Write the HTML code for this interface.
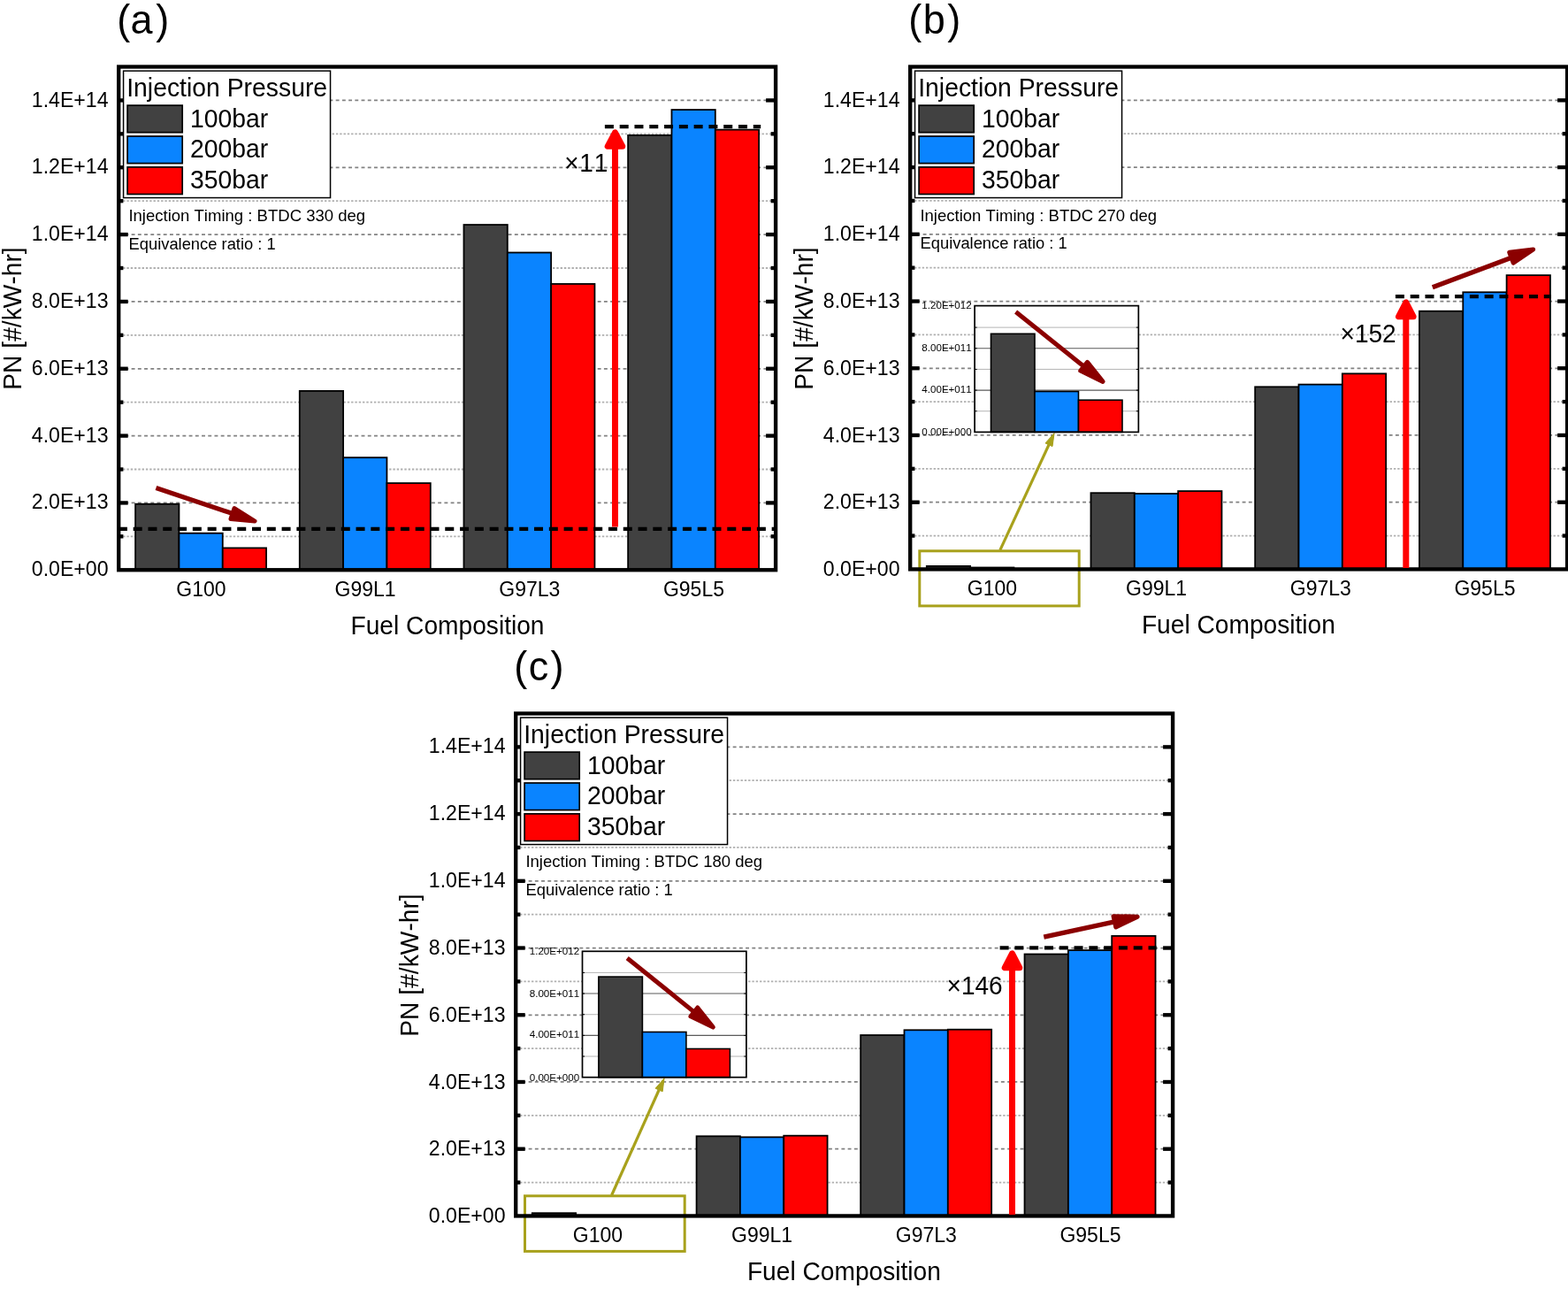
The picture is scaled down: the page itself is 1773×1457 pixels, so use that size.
<!DOCTYPE html>
<html lang="en">
<head>
<meta charset="utf-8">
<title>PN emissions by fuel composition and injection pressure</title>
<style>
html,body{margin:0;padding:0;background:#fff;}
body{width:1773px;height:1457px;overflow:hidden;}
svg{display:block;}
</style>
</head>
<body>
<svg width="1773" height="1457" viewBox="0 0 1773 1457" font-family="'Liberation Sans', sans-serif" fill="#000" style="font-kerning:none">
<rect width="1773" height="1457" fill="#fff"/>
<g transform="translate(0 0)">
<g><line x1="134.2" y1="606.33" x2="877.1" y2="606.33" stroke="#b0b0b0" stroke-width="1.8" stroke-dasharray="2.4 1.9" stroke-dashoffset="-0.6"/><line x1="134.2" y1="568.42" x2="877.1" y2="568.42" stroke="#828282" stroke-width="1.75" stroke-dasharray="3.9 3.32"/><line x1="134.2" y1="530.5" x2="877.1" y2="530.5" stroke="#b0b0b0" stroke-width="1.8" stroke-dasharray="2.4 1.9" stroke-dashoffset="-0.6"/><line x1="134.2" y1="492.58" x2="877.1" y2="492.58" stroke="#828282" stroke-width="1.75" stroke-dasharray="3.9 3.32"/><line x1="134.2" y1="454.67" x2="877.1" y2="454.67" stroke="#b0b0b0" stroke-width="1.8" stroke-dasharray="2.4 1.9" stroke-dashoffset="-0.6"/><line x1="134.2" y1="416.75" x2="877.1" y2="416.75" stroke="#828282" stroke-width="1.75" stroke-dasharray="3.9 3.32"/><line x1="134.2" y1="378.83" x2="877.1" y2="378.83" stroke="#b0b0b0" stroke-width="1.8" stroke-dasharray="2.4 1.9" stroke-dashoffset="-0.6"/><line x1="134.2" y1="340.92" x2="877.1" y2="340.92" stroke="#828282" stroke-width="1.75" stroke-dasharray="3.9 3.32"/><line x1="134.2" y1="303" x2="877.1" y2="303" stroke="#b0b0b0" stroke-width="1.8" stroke-dasharray="2.4 1.9" stroke-dashoffset="-0.6"/><line x1="134.2" y1="265.08" x2="877.1" y2="265.08" stroke="#828282" stroke-width="1.75" stroke-dasharray="3.9 3.32"/><line x1="134.2" y1="227.17" x2="877.1" y2="227.17" stroke="#b0b0b0" stroke-width="1.8" stroke-dasharray="2.4 1.9" stroke-dashoffset="-0.6"/><line x1="134.2" y1="189.25" x2="877.1" y2="189.25" stroke="#828282" stroke-width="1.75" stroke-dasharray="3.9 3.32"/><line x1="134.2" y1="151.33" x2="877.1" y2="151.33" stroke="#b0b0b0" stroke-width="1.8" stroke-dasharray="2.4 1.9" stroke-dashoffset="-0.6"/><line x1="134.2" y1="113.42" x2="877.1" y2="113.42" stroke="#828282" stroke-width="1.75" stroke-dasharray="3.9 3.32"/></g>
<g><rect x="153.1" y="569.7" width="49.33" height="74.55" fill="#414141" stroke="#000" stroke-width="1.8"/><rect x="202.44" y="602.7" width="49.33" height="41.55" fill="#0a84ff" stroke="#000" stroke-width="1.8"/><rect x="251.76" y="619.4" width="49.33" height="24.85" fill="#ff0000" stroke="#000" stroke-width="1.8"/><rect x="338.78" y="441.9" width="49.33" height="202.35" fill="#414141" stroke="#000" stroke-width="1.8"/><rect x="388.11" y="517.2" width="49.33" height="127.05" fill="#0a84ff" stroke="#000" stroke-width="1.8"/><rect x="437.44" y="546.1" width="49.33" height="98.15" fill="#ff0000" stroke="#000" stroke-width="1.8"/><rect x="524.47" y="254.05" width="49.33" height="390.2" fill="#414141" stroke="#000" stroke-width="1.8"/><rect x="573.8" y="285.5" width="49.33" height="358.75" fill="#0a84ff" stroke="#000" stroke-width="1.8"/><rect x="623.12" y="320.95" width="49.33" height="323.3" fill="#ff0000" stroke="#000" stroke-width="1.8"/><rect x="710.14" y="152.9" width="49.33" height="491.35" fill="#414141" stroke="#000" stroke-width="1.8"/><rect x="759.48" y="124.05" width="49.33" height="520.2" fill="#0a84ff" stroke="#000" stroke-width="1.8"/><rect x="808.8" y="146.6" width="49.33" height="497.65" fill="#ff0000" stroke="#000" stroke-width="1.8"/></g>

<g stroke="#000" stroke-width="4.35"><line x1="134.2" y1="606.33" x2="139.4" y2="606.33"/><line x1="877.1" y1="606.33" x2="871.6" y2="606.33"/><line x1="134.2" y1="568.42" x2="144.7" y2="568.42"/><line x1="877.1" y1="568.42" x2="866.1" y2="568.42"/><line x1="134.2" y1="530.5" x2="139.4" y2="530.5"/><line x1="877.1" y1="530.5" x2="871.6" y2="530.5"/><line x1="134.2" y1="492.58" x2="144.7" y2="492.58"/><line x1="877.1" y1="492.58" x2="866.1" y2="492.58"/><line x1="134.2" y1="454.67" x2="139.4" y2="454.67"/><line x1="877.1" y1="454.67" x2="871.6" y2="454.67"/><line x1="134.2" y1="416.75" x2="144.7" y2="416.75"/><line x1="877.1" y1="416.75" x2="866.1" y2="416.75"/><line x1="134.2" y1="378.83" x2="139.4" y2="378.83"/><line x1="877.1" y1="378.83" x2="871.6" y2="378.83"/><line x1="134.2" y1="340.92" x2="144.7" y2="340.92"/><line x1="877.1" y1="340.92" x2="866.1" y2="340.92"/><line x1="134.2" y1="303" x2="139.4" y2="303"/><line x1="877.1" y1="303" x2="871.6" y2="303"/><line x1="134.2" y1="265.08" x2="144.7" y2="265.08"/><line x1="877.1" y1="265.08" x2="866.1" y2="265.08"/><line x1="134.2" y1="227.17" x2="139.4" y2="227.17"/><line x1="877.1" y1="227.17" x2="871.6" y2="227.17"/><line x1="134.2" y1="189.25" x2="144.7" y2="189.25"/><line x1="877.1" y1="189.25" x2="866.1" y2="189.25"/><line x1="134.2" y1="151.33" x2="139.4" y2="151.33"/><line x1="877.1" y1="151.33" x2="871.6" y2="151.33"/><line x1="134.2" y1="113.42" x2="144.7" y2="113.42"/><line x1="877.1" y1="113.42" x2="866.1" y2="113.42"/></g>
<rect x="134.2" y="75.5" width="742.9" height="568.75" fill="none" stroke="#000" stroke-width="4.35"/>
<g><text transform="translate(122.55 650.83) scale(1.0050 1.0400)" font-size="23" text-anchor="end">0.0E+00</text><text transform="translate(122.55 574.77) scale(1.0050 1.0400)" font-size="23" text-anchor="end">2.0E+13</text><text transform="translate(122.55 499.75) scale(1.0050 1.0400)" font-size="23" text-anchor="end">4.0E+13</text><text transform="translate(122.55 424.14) scale(1.0050 1.0400)" font-size="23" text-anchor="end">6.0E+13</text><text transform="translate(122.55 348.02) scale(1.0050 1.0400)" font-size="23" text-anchor="end">8.0E+13</text><text transform="translate(122.55 272.11) scale(1.0050 1.0400)" font-size="23" text-anchor="end">1.0E+14</text><text transform="translate(122.55 195.55) scale(1.0050 1.0400)" font-size="23" text-anchor="end">1.2E+14</text><text transform="translate(122.55 120.78) scale(1.0050 1.0400)" font-size="23" text-anchor="end">1.4E+14</text></g>
<g><text transform="translate(227.4 674.2) scale(1.0000 1.0400)" font-size="23" text-anchor="middle">G100</text><text transform="translate(413.08 674.2) scale(1.0000 1.0400)" font-size="23" text-anchor="middle">G99L1</text><text transform="translate(598.76 674.2) scale(1.0000 1.0400)" font-size="23" text-anchor="middle">G97L3</text><text transform="translate(784.44 674.2) scale(1.0000 1.0400)" font-size="23" text-anchor="middle">G95L5</text></g>
<text transform="translate(506 716.6) scale(0.9880 1.0050)" font-size="28.5" text-anchor="middle">Fuel Composition</text>
<text transform="translate(23.6 360) rotate(-90) scale(0.99 1.04)" font-size="28.5" text-anchor="middle">PN [#/kW-hr]</text>
<text transform="translate(0 38.15) scale(1 1.0220)" font-size="45" x="132.37 147.52 176.2" y="0">(a)</text>
<g><rect x="139.55" y="80.15" width="234" height="143.4" fill="#fff" stroke="#000" stroke-width="1.5"/><text transform="translate(143.2 109) scale(0.9950 1.0400)" font-size="28.5" text-anchor="start">Injection Pressure</text><rect x="144.1" y="119.1" width="62.1" height="30.6" fill="#414141" stroke="#000" stroke-width="1.7"/><text transform="translate(215 143.5) scale(0.9950 1.0400)" font-size="28.5" text-anchor="start">100bar</text><rect x="144.1" y="154" width="62.1" height="30.6" fill="#0a84ff" stroke="#000" stroke-width="1.7"/><text transform="translate(215 178.45) scale(0.9950 1.0400)" font-size="28.5" text-anchor="start">200bar</text><rect x="144.1" y="188.9" width="62.1" height="30.6" fill="#ff0000" stroke="#000" stroke-width="1.7"/><text transform="translate(215 213.4) scale(0.9950 1.0400)" font-size="28.5" text-anchor="start">350bar</text></g>
<text transform="translate(145.4 250) scale(1.0300 1.0700)" font-size="18" text-anchor="start">Injection Timing : BTDC 330 deg</text>
<text transform="translate(145.5 281.8) scale(1.0200 1.0700)" font-size="18" text-anchor="start">Equivalence ratio : 1</text>
<line x1="133.9" y1="597.9" x2="877.1" y2="597.9" stroke="#000" stroke-width="4.3" stroke-dasharray="10 6.79"/><line x1="683.9" y1="143.05" x2="860.2" y2="143.05" stroke="#000" stroke-width="4.3" stroke-dasharray="10 6.79"/><line x1="695.5" y1="595.5" x2="695.5" y2="159.7" stroke="#ff0000" stroke-width="7"/><polygon points="695.5,149.9 687.2,165.3 703.8,165.3" fill="#ff0000" stroke="#ff0000" stroke-width="7" stroke-linejoin="round"/><text transform="translate(0 193.9) scale(1 1.0400)" font-size="28" x="638.2 655.25 671.75" y="0">×11</text><line x1="176.45" y1="551.4" x2="262.98" y2="580.57" stroke="#8b0000" stroke-width="5.3"/><polygon points="288,589 260.97,586.54 265,574.6" fill="#8b0000" stroke="#8b0000" stroke-width="5" stroke-linejoin="round"/>
</g>
<g transform="translate(895 0)">
<g><line x1="134.2" y1="605.57" x2="877.1" y2="605.57" stroke="#b0b0b0" stroke-width="1.8" stroke-dasharray="2.4 1.9" stroke-dashoffset="-0.6"/><line x1="134.2" y1="567.71" x2="877.1" y2="567.71" stroke="#828282" stroke-width="1.75" stroke-dasharray="3.9 3.32"/><line x1="134.2" y1="529.84" x2="877.1" y2="529.84" stroke="#b0b0b0" stroke-width="1.8" stroke-dasharray="2.4 1.9" stroke-dashoffset="-0.6"/><line x1="134.2" y1="491.98" x2="877.1" y2="491.98" stroke="#828282" stroke-width="1.75" stroke-dasharray="3.9 3.32"/><line x1="134.2" y1="454.12" x2="877.1" y2="454.12" stroke="#b0b0b0" stroke-width="1.8" stroke-dasharray="2.4 1.9" stroke-dashoffset="-0.6"/><line x1="134.2" y1="416.26" x2="877.1" y2="416.26" stroke="#828282" stroke-width="1.75" stroke-dasharray="3.9 3.32"/><line x1="134.2" y1="378.4" x2="877.1" y2="378.4" stroke="#b0b0b0" stroke-width="1.8" stroke-dasharray="2.4 1.9" stroke-dashoffset="-0.6"/><line x1="134.2" y1="340.53" x2="877.1" y2="340.53" stroke="#828282" stroke-width="1.75" stroke-dasharray="3.9 3.32"/><line x1="134.2" y1="302.67" x2="877.1" y2="302.67" stroke="#b0b0b0" stroke-width="1.8" stroke-dasharray="2.4 1.9" stroke-dashoffset="-0.6"/><line x1="134.2" y1="264.81" x2="877.1" y2="264.81" stroke="#828282" stroke-width="1.75" stroke-dasharray="3.9 3.32"/><line x1="134.2" y1="226.95" x2="877.1" y2="226.95" stroke="#b0b0b0" stroke-width="1.8" stroke-dasharray="2.4 1.9" stroke-dashoffset="-0.6"/><line x1="134.2" y1="189.09" x2="877.1" y2="189.09" stroke="#828282" stroke-width="1.75" stroke-dasharray="3.9 3.32"/><line x1="134.2" y1="151.22" x2="877.1" y2="151.22" stroke="#b0b0b0" stroke-width="1.8" stroke-dasharray="2.4 1.9" stroke-dashoffset="-0.6"/><line x1="134.2" y1="113.36" x2="877.1" y2="113.36" stroke="#828282" stroke-width="1.75" stroke-dasharray="3.9 3.32"/></g>
<g><rect x="152.8" y="639.9" width="49.33" height="3.53" fill="#414141" stroke="#000" stroke-width="1.8"/><rect x="202.13" y="641.5" width="49.33" height="1.93" fill="#0a84ff" stroke="#000" stroke-width="1.8"/><rect x="251.46" y="643.2" width="49.33" height="0.23" fill="#ff0000" stroke="#000" stroke-width="1.8"/><rect x="338.48" y="557.2" width="49.33" height="86.23" fill="#414141" stroke="#000" stroke-width="1.8"/><rect x="387.81" y="558" width="49.33" height="85.43" fill="#0a84ff" stroke="#000" stroke-width="1.8"/><rect x="437.14" y="555.1" width="49.33" height="88.33" fill="#ff0000" stroke="#000" stroke-width="1.8"/><rect x="524.17" y="437.3" width="49.33" height="206.13" fill="#414141" stroke="#000" stroke-width="1.8"/><rect x="573.5" y="434.6" width="49.33" height="208.83" fill="#0a84ff" stroke="#000" stroke-width="1.8"/><rect x="622.83" y="422.35" width="49.33" height="221.08" fill="#ff0000" stroke="#000" stroke-width="1.8"/><rect x="709.94" y="351.7" width="49.33" height="291.73" fill="#414141" stroke="#000" stroke-width="1.8"/><rect x="759.27" y="330.3" width="49.33" height="313.13" fill="#0a84ff" stroke="#000" stroke-width="1.8"/><rect x="808.6" y="311.1" width="49.33" height="332.33" fill="#ff0000" stroke="#000" stroke-width="1.8"/></g>
<rect x="144.8" y="622.8" width="180.4" height="62.1" fill="none" stroke="#a8a11c" stroke-width="3"/>
<g stroke="#000" stroke-width="4.35"><line x1="134.2" y1="605.57" x2="139.4" y2="605.57"/><line x1="877.1" y1="605.57" x2="871.6" y2="605.57"/><line x1="134.2" y1="567.71" x2="144.7" y2="567.71"/><line x1="877.1" y1="567.71" x2="866.1" y2="567.71"/><line x1="134.2" y1="529.84" x2="139.4" y2="529.84"/><line x1="877.1" y1="529.84" x2="871.6" y2="529.84"/><line x1="134.2" y1="491.98" x2="144.7" y2="491.98"/><line x1="877.1" y1="491.98" x2="866.1" y2="491.98"/><line x1="134.2" y1="454.12" x2="139.4" y2="454.12"/><line x1="877.1" y1="454.12" x2="871.6" y2="454.12"/><line x1="134.2" y1="416.26" x2="144.7" y2="416.26"/><line x1="877.1" y1="416.26" x2="866.1" y2="416.26"/><line x1="134.2" y1="378.4" x2="139.4" y2="378.4"/><line x1="877.1" y1="378.4" x2="871.6" y2="378.4"/><line x1="134.2" y1="340.53" x2="144.7" y2="340.53"/><line x1="877.1" y1="340.53" x2="866.1" y2="340.53"/><line x1="134.2" y1="302.67" x2="139.4" y2="302.67"/><line x1="877.1" y1="302.67" x2="871.6" y2="302.67"/><line x1="134.2" y1="264.81" x2="144.7" y2="264.81"/><line x1="877.1" y1="264.81" x2="866.1" y2="264.81"/><line x1="134.2" y1="226.95" x2="139.4" y2="226.95"/><line x1="877.1" y1="226.95" x2="871.6" y2="226.95"/><line x1="134.2" y1="189.09" x2="144.7" y2="189.09"/><line x1="877.1" y1="189.09" x2="866.1" y2="189.09"/><line x1="134.2" y1="151.22" x2="139.4" y2="151.22"/><line x1="877.1" y1="151.22" x2="871.6" y2="151.22"/><line x1="134.2" y1="113.36" x2="144.7" y2="113.36"/><line x1="877.1" y1="113.36" x2="866.1" y2="113.36"/></g>
<rect x="134.2" y="75.5" width="742.9" height="567.93" fill="none" stroke="#000" stroke-width="4.35"/>
<g><text transform="translate(122.55 651.08) scale(1.0050 1.0400)" font-size="23" text-anchor="end">0.0E+00</text><text transform="translate(122.55 575.02) scale(1.0050 1.0400)" font-size="23" text-anchor="end">2.0E+13</text><text transform="translate(122.55 500) scale(1.0050 1.0400)" font-size="23" text-anchor="end">4.0E+13</text><text transform="translate(122.55 424.39) scale(1.0050 1.0400)" font-size="23" text-anchor="end">6.0E+13</text><text transform="translate(122.55 348.27) scale(1.0050 1.0400)" font-size="23" text-anchor="end">8.0E+13</text><text transform="translate(122.55 272.36) scale(1.0050 1.0400)" font-size="23" text-anchor="end">1.0E+14</text><text transform="translate(122.55 195.8) scale(1.0050 1.0400)" font-size="23" text-anchor="end">1.2E+14</text><text transform="translate(122.55 121.03) scale(1.0050 1.0400)" font-size="23" text-anchor="end">1.4E+14</text></g>
<g><text transform="translate(226.9 673.2) scale(1.0000 1.0400)" font-size="23" text-anchor="middle">G100</text><text transform="translate(412.58 673.2) scale(1.0000 1.0400)" font-size="23" text-anchor="middle">G99L1</text><text transform="translate(598.26 673.2) scale(1.0000 1.0400)" font-size="23" text-anchor="middle">G97L3</text><text transform="translate(783.94 673.2) scale(1.0000 1.0400)" font-size="23" text-anchor="middle">G95L5</text></g>
<text transform="translate(505.4 716.3) scale(0.9880 1.0050)" font-size="28.5" text-anchor="middle">Fuel Composition</text>
<text transform="translate(23.6 360) rotate(-90) scale(0.99 1.04)" font-size="28.5" text-anchor="middle">PN [#/kW-hr]</text>
<text transform="translate(0 38.15) scale(1 1.0220)" font-size="45" x="132.37 148.76 176.2" y="0">(b)</text>
<g><rect x="139.55" y="80.15" width="234" height="143.4" fill="#fff" stroke="#000" stroke-width="1.5"/><text transform="translate(143.2 109) scale(0.9950 1.0400)" font-size="28.5" text-anchor="start">Injection Pressure</text><rect x="144.1" y="119.1" width="62.1" height="30.6" fill="#414141" stroke="#000" stroke-width="1.7"/><text transform="translate(215 143.5) scale(0.9950 1.0400)" font-size="28.5" text-anchor="start">100bar</text><rect x="144.1" y="154" width="62.1" height="30.6" fill="#0a84ff" stroke="#000" stroke-width="1.7"/><text transform="translate(215 178.45) scale(0.9950 1.0400)" font-size="28.5" text-anchor="start">200bar</text><rect x="144.1" y="188.9" width="62.1" height="30.6" fill="#ff0000" stroke="#000" stroke-width="1.7"/><text transform="translate(215 213.4) scale(0.9950 1.0400)" font-size="28.5" text-anchor="start">350bar</text></g>
<text transform="translate(145.4 249.5) scale(1.0300 1.0700)" font-size="18" text-anchor="start">Injection Timing : BTDC 270 deg</text>
<text transform="translate(145.5 281.3) scale(1.0200 1.0700)" font-size="18" text-anchor="start">Equivalence ratio : 1</text>
<line x1="682.9" y1="335.2" x2="859" y2="335.2" stroke="#000" stroke-width="4.3" stroke-dasharray="10 6.79"/><line x1="694.8" y1="642" x2="694.8" y2="351.7" stroke="#ff0000" stroke-width="7"/><polygon points="694.8,341.9 686.5,357.8 703.1,357.8" fill="#ff0000" stroke="#ff0000" stroke-width="7" stroke-linejoin="round"/><text transform="translate(620.6 387.2) scale(1.0000 1.0400)" font-size="28" text-anchor="start">×152</text><line x1="724.8" y1="324.7" x2="813.98" y2="291.23" stroke="#8b0000" stroke-width="5.3"/><polygon points="838.7,281.95 816.2,297.13 811.77,285.33" fill="#8b0000" stroke="#8b0000" stroke-width="5" stroke-linejoin="round"/><line x1="235.8" y1="621.8" x2="291" y2="502.75" stroke="#a8a11c" stroke-width="3.2"/><polygon points="297.1,489.6 294.99,504.61 287.01,500.9" fill="#a8a11c" stroke="#a8a11c" stroke-width="1" stroke-linejoin="round"/><g>
<rect x="207.1" y="345.6" width="185.25" height="142.8" fill="#fff"/>
<line x1="207.1" y1="464.74" x2="392.35" y2="464.74" stroke="#b4b4b4" stroke-width="1"/>
<line x1="207.1" y1="464.74" x2="209.7" y2="464.74" stroke="#000" stroke-width="1"/>
<line x1="392.35" y1="464.74" x2="389.75" y2="464.74" stroke="#000" stroke-width="1"/>
<line x1="207.1" y1="441.08" x2="392.35" y2="441.08" stroke="#5a5a5a" stroke-width="1.1"/>
<line x1="207.1" y1="441.08" x2="209.7" y2="441.08" stroke="#000" stroke-width="1"/>
<line x1="392.35" y1="441.08" x2="389.75" y2="441.08" stroke="#000" stroke-width="1"/>
<line x1="207.1" y1="417.42" x2="392.35" y2="417.42" stroke="#b4b4b4" stroke-width="1"/>
<line x1="207.1" y1="417.42" x2="209.7" y2="417.42" stroke="#000" stroke-width="1"/>
<line x1="392.35" y1="417.42" x2="389.75" y2="417.42" stroke="#000" stroke-width="1"/>
<line x1="207.1" y1="393.76" x2="392.35" y2="393.76" stroke="#5a5a5a" stroke-width="1.1"/>
<line x1="207.1" y1="393.76" x2="209.7" y2="393.76" stroke="#000" stroke-width="1"/>
<line x1="392.35" y1="393.76" x2="389.75" y2="393.76" stroke="#000" stroke-width="1"/>
<line x1="207.1" y1="370.1" x2="392.35" y2="370.1" stroke="#b4b4b4" stroke-width="1"/>
<line x1="207.1" y1="370.1" x2="209.7" y2="370.1" stroke="#000" stroke-width="1"/>
<line x1="392.35" y1="370.1" x2="389.75" y2="370.1" stroke="#000" stroke-width="1"/>
<rect x="225.5" y="377.3" width="49.5" height="111.1" fill="#414141" stroke="#000" stroke-width="1.6"/>
<rect x="275" y="442.5" width="49.5" height="45.9" fill="#0a84ff" stroke="#000" stroke-width="1.6"/>
<rect x="324.5" y="452.2" width="49.5" height="36.2" fill="#ff0000" stroke="#000" stroke-width="1.6"/>
<rect x="207.1" y="345.6" width="185.25" height="142.8" fill="none" stroke="#000" stroke-width="1.7"/>
<text transform="translate(203.7 492.4) scale(1.0350 1.0400)" font-size="11.2" text-anchor="end">0.00E+000</text>
<text transform="translate(203.7 443.9) scale(1.0350 1.0400)" font-size="11.2" text-anchor="end">4.00E+011</text>
<text transform="translate(203.7 397) scale(1.0350 1.0400)" font-size="11.2" text-anchor="end">8.00E+011</text>
<text transform="translate(203.7 349.4) scale(1.0350 1.0400)" font-size="11.2" text-anchor="end">1.20E+012</text>
<line x1="253.6" y1="352.5" x2="330.64" y2="414.21" stroke="#8b0000" stroke-width="5"/><polygon points="352.1,431.4 326.73,419.09 334.54,409.33" fill="#8b0000" stroke="#8b0000" stroke-width="5" stroke-linejoin="round"/>
</g>
</g>
<g transform="translate(449 731)">
<g><line x1="134.2" y1="605.57" x2="877.1" y2="605.57" stroke="#b0b0b0" stroke-width="1.8" stroke-dasharray="2.4 1.9" stroke-dashoffset="-0.6"/><line x1="134.2" y1="567.71" x2="877.1" y2="567.71" stroke="#828282" stroke-width="1.75" stroke-dasharray="3.9 3.32"/><line x1="134.2" y1="529.84" x2="877.1" y2="529.84" stroke="#b0b0b0" stroke-width="1.8" stroke-dasharray="2.4 1.9" stroke-dashoffset="-0.6"/><line x1="134.2" y1="491.98" x2="877.1" y2="491.98" stroke="#828282" stroke-width="1.75" stroke-dasharray="3.9 3.32"/><line x1="134.2" y1="454.12" x2="877.1" y2="454.12" stroke="#b0b0b0" stroke-width="1.8" stroke-dasharray="2.4 1.9" stroke-dashoffset="-0.6"/><line x1="134.2" y1="416.26" x2="877.1" y2="416.26" stroke="#828282" stroke-width="1.75" stroke-dasharray="3.9 3.32"/><line x1="134.2" y1="378.4" x2="877.1" y2="378.4" stroke="#b0b0b0" stroke-width="1.8" stroke-dasharray="2.4 1.9" stroke-dashoffset="-0.6"/><line x1="134.2" y1="340.53" x2="877.1" y2="340.53" stroke="#828282" stroke-width="1.75" stroke-dasharray="3.9 3.32"/><line x1="134.2" y1="302.67" x2="877.1" y2="302.67" stroke="#b0b0b0" stroke-width="1.8" stroke-dasharray="2.4 1.9" stroke-dashoffset="-0.6"/><line x1="134.2" y1="264.81" x2="877.1" y2="264.81" stroke="#828282" stroke-width="1.75" stroke-dasharray="3.9 3.32"/><line x1="134.2" y1="226.95" x2="877.1" y2="226.95" stroke="#b0b0b0" stroke-width="1.8" stroke-dasharray="2.4 1.9" stroke-dashoffset="-0.6"/><line x1="134.2" y1="189.09" x2="877.1" y2="189.09" stroke="#828282" stroke-width="1.75" stroke-dasharray="3.9 3.32"/><line x1="134.2" y1="151.22" x2="877.1" y2="151.22" stroke="#b0b0b0" stroke-width="1.8" stroke-dasharray="2.4 1.9" stroke-dashoffset="-0.6"/><line x1="134.2" y1="113.36" x2="877.1" y2="113.36" stroke="#828282" stroke-width="1.75" stroke-dasharray="3.9 3.32"/></g>
<g><rect x="152.8" y="640.2" width="49.33" height="3.23" fill="#414141" stroke="#000" stroke-width="1.8"/><rect x="202.13" y="642.9" width="49.33" height="0.53" fill="#0a84ff" stroke="#000" stroke-width="1.8"/><rect x="251.46" y="643.2" width="49.33" height="0.23" fill="#ff0000" stroke="#000" stroke-width="1.8"/><rect x="338.58" y="553.3" width="49.33" height="90.13" fill="#414141" stroke="#000" stroke-width="1.8"/><rect x="387.91" y="554.35" width="49.33" height="89.08" fill="#0a84ff" stroke="#000" stroke-width="1.8"/><rect x="437.25" y="552.7" width="49.33" height="90.73" fill="#ff0000" stroke="#000" stroke-width="1.8"/><rect x="524.17" y="439.05" width="49.33" height="204.38" fill="#414141" stroke="#000" stroke-width="1.8"/><rect x="573.5" y="433.3" width="49.33" height="210.13" fill="#0a84ff" stroke="#000" stroke-width="1.8"/><rect x="622.83" y="432.7" width="49.33" height="210.73" fill="#ff0000" stroke="#000" stroke-width="1.8"/><rect x="709.54" y="347.5" width="49.33" height="295.93" fill="#414141" stroke="#000" stroke-width="1.8"/><rect x="758.88" y="343.1" width="49.33" height="300.33" fill="#0a84ff" stroke="#000" stroke-width="1.8"/><rect x="808.2" y="326.95" width="49.33" height="316.48" fill="#ff0000" stroke="#000" stroke-width="1.8"/></g>
<rect x="144.5" y="620.8" width="180.7" height="62.6" fill="none" stroke="#a8a11c" stroke-width="3"/>
<g stroke="#000" stroke-width="4.35"><line x1="134.2" y1="605.57" x2="139.4" y2="605.57"/><line x1="877.1" y1="605.57" x2="871.6" y2="605.57"/><line x1="134.2" y1="567.71" x2="144.7" y2="567.71"/><line x1="877.1" y1="567.71" x2="866.1" y2="567.71"/><line x1="134.2" y1="529.84" x2="139.4" y2="529.84"/><line x1="877.1" y1="529.84" x2="871.6" y2="529.84"/><line x1="134.2" y1="491.98" x2="144.7" y2="491.98"/><line x1="877.1" y1="491.98" x2="866.1" y2="491.98"/><line x1="134.2" y1="454.12" x2="139.4" y2="454.12"/><line x1="877.1" y1="454.12" x2="871.6" y2="454.12"/><line x1="134.2" y1="416.26" x2="144.7" y2="416.26"/><line x1="877.1" y1="416.26" x2="866.1" y2="416.26"/><line x1="134.2" y1="378.4" x2="139.4" y2="378.4"/><line x1="877.1" y1="378.4" x2="871.6" y2="378.4"/><line x1="134.2" y1="340.53" x2="144.7" y2="340.53"/><line x1="877.1" y1="340.53" x2="866.1" y2="340.53"/><line x1="134.2" y1="302.67" x2="139.4" y2="302.67"/><line x1="877.1" y1="302.67" x2="871.6" y2="302.67"/><line x1="134.2" y1="264.81" x2="144.7" y2="264.81"/><line x1="877.1" y1="264.81" x2="866.1" y2="264.81"/><line x1="134.2" y1="226.95" x2="139.4" y2="226.95"/><line x1="877.1" y1="226.95" x2="871.6" y2="226.95"/><line x1="134.2" y1="189.09" x2="144.7" y2="189.09"/><line x1="877.1" y1="189.09" x2="866.1" y2="189.09"/><line x1="134.2" y1="151.22" x2="139.4" y2="151.22"/><line x1="877.1" y1="151.22" x2="871.6" y2="151.22"/><line x1="134.2" y1="113.36" x2="144.7" y2="113.36"/><line x1="877.1" y1="113.36" x2="866.1" y2="113.36"/></g>
<rect x="134.2" y="75.5" width="742.9" height="567.93" fill="none" stroke="#000" stroke-width="4.35"/>
<g><text transform="translate(122.55 650.83) scale(1.0050 1.0400)" font-size="23" text-anchor="end">0.0E+00</text><text transform="translate(122.55 574.77) scale(1.0050 1.0400)" font-size="23" text-anchor="end">2.0E+13</text><text transform="translate(122.55 499.75) scale(1.0050 1.0400)" font-size="23" text-anchor="end">4.0E+13</text><text transform="translate(122.55 424.14) scale(1.0050 1.0400)" font-size="23" text-anchor="end">6.0E+13</text><text transform="translate(122.55 348.02) scale(1.0050 1.0400)" font-size="23" text-anchor="end">8.0E+13</text><text transform="translate(122.55 272.11) scale(1.0050 1.0400)" font-size="23" text-anchor="end">1.0E+14</text><text transform="translate(122.55 195.55) scale(1.0050 1.0400)" font-size="23" text-anchor="end">1.2E+14</text><text transform="translate(122.55 119.98) scale(1.0050 1.0400)" font-size="23" text-anchor="end">1.4E+14</text></g>
<g><text transform="translate(226.9 673.2) scale(1.0000 1.0400)" font-size="23" text-anchor="middle">G100</text><text transform="translate(412.58 673.2) scale(1.0000 1.0400)" font-size="23" text-anchor="middle">G99L1</text><text transform="translate(598.26 673.2) scale(1.0000 1.0400)" font-size="23" text-anchor="middle">G97L3</text><text transform="translate(783.94 673.2) scale(1.0000 1.0400)" font-size="23" text-anchor="middle">G95L5</text></g>
<text transform="translate(505.4 716.3) scale(0.9880 1.0050)" font-size="28.5" text-anchor="middle">Fuel Composition</text>
<text transform="translate(23.6 360) rotate(-90) scale(0.99 1.04)" font-size="28.5" text-anchor="middle">PN [#/kW-hr]</text>
<text transform="translate(0 38.15) scale(1 1.0220)" font-size="45" x="132.37 148.7 173.49" y="0">(c)</text>
<g><rect x="139.55" y="80.15" width="234" height="143.4" fill="#fff" stroke="#000" stroke-width="1.5"/><text transform="translate(143.2 109) scale(0.9950 1.0400)" font-size="28.5" text-anchor="start">Injection Pressure</text><rect x="144.1" y="119.1" width="62.1" height="30.6" fill="#414141" stroke="#000" stroke-width="1.7"/><text transform="translate(215 143.5) scale(0.9950 1.0400)" font-size="28.5" text-anchor="start">100bar</text><rect x="144.1" y="154" width="62.1" height="30.6" fill="#0a84ff" stroke="#000" stroke-width="1.7"/><text transform="translate(215 178.45) scale(0.9950 1.0400)" font-size="28.5" text-anchor="start">200bar</text><rect x="144.1" y="188.9" width="62.1" height="30.6" fill="#ff0000" stroke="#000" stroke-width="1.7"/><text transform="translate(215 213.4) scale(0.9950 1.0400)" font-size="28.5" text-anchor="start">350bar</text></g>
<text transform="translate(145.4 249.4) scale(1.0300 1.0700)" font-size="18" text-anchor="start">Injection Timing : BTDC 180 deg</text>
<text transform="translate(145.5 281.2) scale(1.0200 1.0700)" font-size="18" text-anchor="start">Equivalence ratio : 1</text>
<line x1="681.6" y1="340.3" x2="858.6" y2="340.3" stroke="#000" stroke-width="4.3" stroke-dasharray="10 6.79"/><line x1="695.5" y1="642" x2="695.5" y2="356.7" stroke="#ff0000" stroke-width="7"/><polygon points="695.5,346.9 687.2,362.8 703.8,362.8" fill="#ff0000" stroke="#ff0000" stroke-width="7" stroke-linejoin="round"/><text transform="translate(621.6 393.2) scale(1.0000 1.0400)" font-size="28" text-anchor="start">×146</text><line x1="731.3" y1="328.2" x2="811.4" y2="310.8" stroke="#8b0000" stroke-width="5.4"/><polygon points="837.2,305.2 812.74,316.96 810.06,304.65" fill="#8b0000" stroke="#8b0000" stroke-width="5" stroke-linejoin="round"/><line x1="242.6" y1="620" x2="296.15" y2="501.02" stroke="#a8a11c" stroke-width="3.2"/><polygon points="302.1,487.8 300.16,502.83 292.14,499.22" fill="#a8a11c" stroke="#a8a11c" stroke-width="1" stroke-linejoin="round"/><g>
<rect x="209.5" y="344.3" width="185.4" height="142.4" fill="#fff"/>
<line x1="209.5" y1="463.04" x2="394.9" y2="463.04" stroke="#b4b4b4" stroke-width="1"/>
<line x1="209.5" y1="463.04" x2="212.1" y2="463.04" stroke="#000" stroke-width="1"/>
<line x1="394.9" y1="463.04" x2="392.3" y2="463.04" stroke="#000" stroke-width="1"/>
<line x1="209.5" y1="439.38" x2="394.9" y2="439.38" stroke="#5a5a5a" stroke-width="1.1"/>
<line x1="209.5" y1="439.38" x2="212.1" y2="439.38" stroke="#000" stroke-width="1"/>
<line x1="394.9" y1="439.38" x2="392.3" y2="439.38" stroke="#000" stroke-width="1"/>
<line x1="209.5" y1="415.72" x2="394.9" y2="415.72" stroke="#b4b4b4" stroke-width="1"/>
<line x1="209.5" y1="415.72" x2="212.1" y2="415.72" stroke="#000" stroke-width="1"/>
<line x1="394.9" y1="415.72" x2="392.3" y2="415.72" stroke="#000" stroke-width="1"/>
<line x1="209.5" y1="392.06" x2="394.9" y2="392.06" stroke="#5a5a5a" stroke-width="1.1"/>
<line x1="209.5" y1="392.06" x2="212.1" y2="392.06" stroke="#000" stroke-width="1"/>
<line x1="394.9" y1="392.06" x2="392.3" y2="392.06" stroke="#000" stroke-width="1"/>
<line x1="209.5" y1="368.4" x2="394.9" y2="368.4" stroke="#b4b4b4" stroke-width="1"/>
<line x1="209.5" y1="368.4" x2="212.1" y2="368.4" stroke="#000" stroke-width="1"/>
<line x1="394.9" y1="368.4" x2="392.3" y2="368.4" stroke="#000" stroke-width="1"/>
<rect x="227.9" y="373.1" width="49.5" height="113.6" fill="#414141" stroke="#000" stroke-width="1.6"/>
<rect x="277.4" y="435.5" width="49.5" height="51.2" fill="#0a84ff" stroke="#000" stroke-width="1.6"/>
<rect x="326.9" y="454.5" width="49.5" height="32.2" fill="#ff0000" stroke="#000" stroke-width="1.6"/>
<rect x="209.5" y="344.3" width="185.4" height="142.4" fill="none" stroke="#000" stroke-width="1.7"/>
<text transform="translate(206.1 490.7) scale(1.0350 1.0400)" font-size="11.2" text-anchor="end">0.00E+000</text>
<text transform="translate(206.1 442.33) scale(1.0350 1.0400)" font-size="11.2" text-anchor="end">4.00E+011</text>
<text transform="translate(206.1 395.57) scale(1.0350 1.0400)" font-size="11.2" text-anchor="end">8.00E+011</text>
<text transform="translate(206.1 348.1) scale(1.0350 1.0400)" font-size="11.2" text-anchor="end">1.20E+012</text>
<line x1="260.2" y1="352" x2="335.87" y2="412.86" stroke="#8b0000" stroke-width="5"/><polygon points="357.3,430.1 331.95,417.73 339.79,407.99" fill="#8b0000" stroke="#8b0000" stroke-width="5" stroke-linejoin="round"/>
</g>
</g>
</svg>
</body>
</html>
